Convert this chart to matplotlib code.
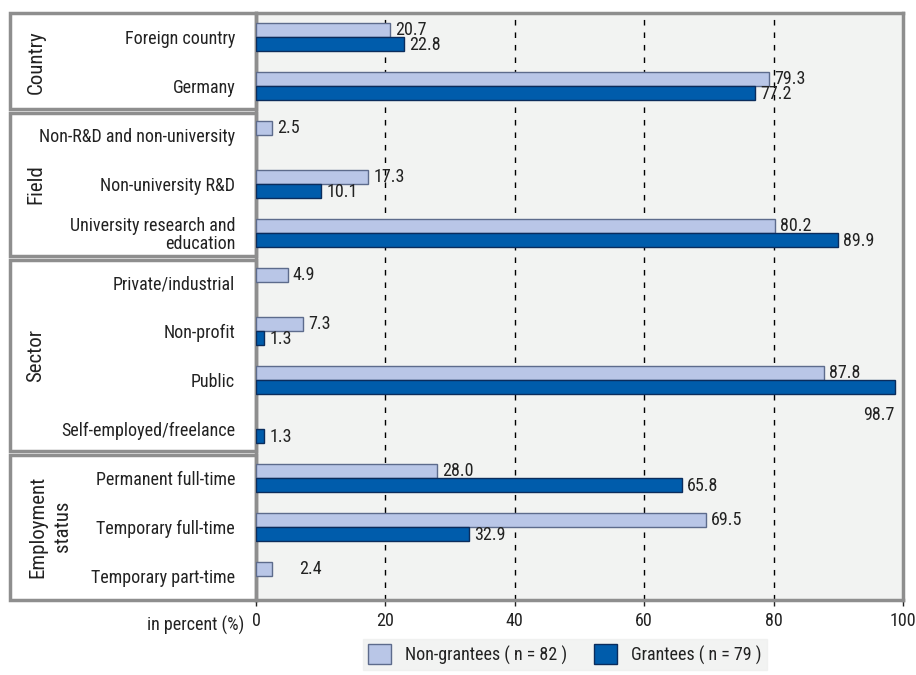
import matplotlib
matplotlib.use('Agg')
import matplotlib.pyplot as plt
import matplotlib.transforms as mtransforms
from matplotlib import font_manager as fm
from matplotlib.patches import Rectangle, Patch
import numpy as np

# narrow sans font if one is around, else plain sans
available = set(f.name for f in fm.fontManager.ttflist)
narrow = [n for n in ['Roboto Condensed', 'Archivo Narrow', 'PT Sans Narrow', 'Arial Narrow',
                      'Liberation Sans Narrow', 'Fira Sans Condensed', 'Open Sans Condensed',
                      'IBM Plex Sans Condensed', 'Encode Sans Condensed', 'Barlow Semi Condensed']
          if n in available]
plt.rcParams['font.family'] = narrow[:1] + ['Liberation Sans', 'DejaVu Sans']
plt.rcParams['font.size'] = 13

# ---------------------------------------------------------------------------
categories = ['Foreign country', 'Germany',
              'Non-R&D and non-university', 'Non-university R&D',
              'University research and\neducation',
              'Private/industrial', 'Non-profit', 'Public', 'Self-employed/freelance',
              'Permanent full-time', 'Temporary full-time', 'Temporary part-time']
non_grantees = [20.7, 79.3, 2.5, 17.3, 80.2, 4.9, 7.3, 87.8, None, 28.0, 69.5, 2.4]
grantees = [22.8, 77.2, None, 10.1, 89.9, None, 1.3, 98.7, 1.3, 65.8, 32.9, None]
groups = ['Country', 'Field', 'Sector', 'Employment\nstatus']
group_sizes = [2, 3, 4, 3]
xticks = [0, 20, 40, 60, 80, 100]
legend_labels = ['Non-grantees ( n = 82 )', 'Grantees ( n = 79 )']

light = '#b9c6e7'
light_edge = '#5d6b8c'
dark = '#005cab'
dark_edge = '#0b2c5c'
frame_col = '#8e8e8e'
txt_col = '#222222'

# ---------------------------------------------------------------------------
W, H = 916, 675
fig = plt.figure(figsize=(W / 100, H / 100), dpi=100)
ax = fig.add_axes([256 / W, 1 - 600 / H, 647 / W, 587 / H])
ax.set_facecolor('#f2f3f2')

y = np.arange(len(categories), dtype=float)
bh = 0.286

ia = [i for i, v in enumerate(non_grantees) if v is not None]
ib = [i for i, v in enumerate(grantees) if v is not None]
va_ = np.array([non_grantees[i] for i in ia], dtype=float)
vb_ = np.array([grantees[i] for i in ib], dtype=float)
ya = y[ia] - bh / 2
yb = y[ib] + bh / 2

ax.barh(ya, va_, height=bh, color=light, edgecolor=light_edge, linewidth=1, zorder=3)
ax.barh(yb, vb_, height=bh, color=dark, edgecolor=dark_edge, linewidth=1, zorder=3)

for k, i in enumerate(ia):
    # last row label sits away from its bar in the original
    xoff = 4.3 if i == len(categories) - 1 else 0.8
    ax.text(va_[k] + xoff, ya[k], '%.1f' % va_[k], va='center', ha='left', color=txt_col, zorder=4)
for k, i in enumerate(ib):
    if vb_[k] > 95:
        # no room on the right: sits under the bar end
        ax.text(vb_[k], yb[k] + 0.58, '%.1f' % vb_[k], va='center', ha='right', color=txt_col, zorder=4)
    else:
        ax.text(vb_[k] + 0.8, yb[k] + 0.02, '%.1f' % vb_[k], va='center', ha='left', color=txt_col, zorder=4)

ax.set_xlim(0, 100)
ax.set_ylim(len(categories) - 0.5, -0.5)
ax.set_xticks(xticks)
ax.set_xticklabels([str(t) for t in xticks], color=txt_col)
ax.tick_params(axis='x', length=4, width=1, color='#222222', pad=5)
ax.set_yticks(y)
ax.set_yticklabels(categories, color=txt_col, ha='right', linespacing=1.0)
ax.tick_params(axis='y', length=0, pad=15)
for t in xticks[1:-1]:
    ax.axvline(t, color='black', linestyle=(0, (4, 5)), linewidth=1, zorder=2)
for s in ax.spines.values():
    s.set_color(frame_col)
    s.set_linewidth(2.5)

# "in percent" label next to the axis ticks
ax.text(-0.018, -0.027, 'in percent (%)', transform=ax.transAxes, ha='right', va='top', color=txt_col)

# left group panel
trans = mtransforms.blended_transform_factory(ax.transAxes, ax.transData)
x0 = -246 / 647
start = 0
for g, n in zip(groups, group_sizes):
    top = start - 0.5
    bot = start + n - 0.5
    gap = 0.04 if start > 0 else 0.0
    gap2 = 0.04 if start + n < len(categories) else 0.0
    ax.add_patch(Rectangle((x0, top + gap), -x0, (bot - gap2) - (top + gap), transform=trans,
                           facecolor='white', edgecolor=frame_col, linewidth=2.5, clip_on=False, zorder=1))
    xc = x0 + (0.062 if '\n' in g else 0.040)
    ax.text(xc, (top + bot) / 2, g, transform=trans, rotation=90, ha='center', va='center',
            fontsize=15, color=txt_col, linespacing=1.35)
    start += n

# legend
handles = [Patch(facecolor=light, edgecolor=light_edge, label=legend_labels[0]),
           Patch(facecolor=dark, edgecolor=dark_edge, label=legend_labels[1])]
leg = fig.legend(handles=handles, loc='lower center', bbox_to_anchor=(565 / W, -0.006), ncol=2,
                 frameon=True, handlelength=1.25, handleheight=1.35, columnspacing=1.5,
                 handletextpad=0.8, borderpad=0.3, fancybox=False)
leg.get_frame().set_facecolor('#eff0ef')
leg.get_frame().set_edgecolor('#eff0ef')
for t in leg.get_texts():
    t.set_color(txt_col)

fig.savefig('out.png', dpi=100)
